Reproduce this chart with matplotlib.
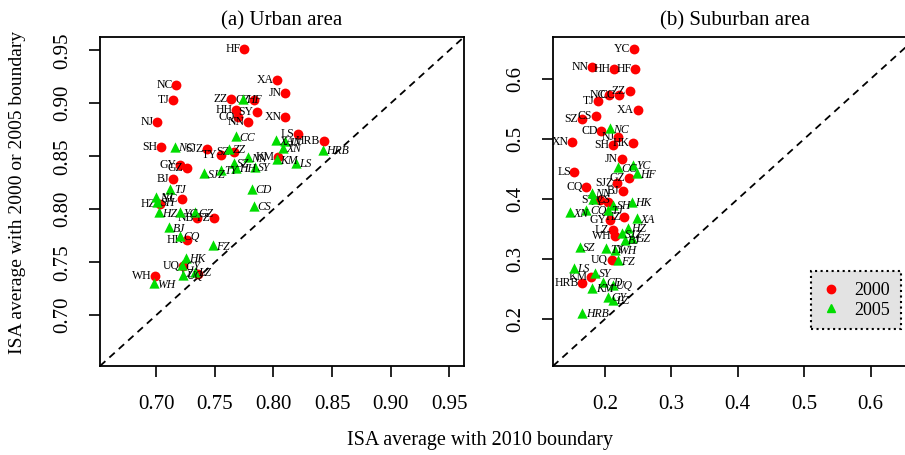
import matplotlib
matplotlib.use("Agg")
import matplotlib.pyplot as plt
from matplotlib.lines import Line2D

plt.rcParams['font.family'] = ['Liberation Serif', 'DejaVu Serif']

RED = '#ff0000'
GREEN = '#00dd00'

# (a) urban area, 2000 boundary vs 2010 boundary
urban_lab_2000 = ['HF', 'XA', 'NC', 'JN', 'TJ', 'ZZ', 'CZ', 'HH', 'SY', 'CQ', 'NN', 'XN',
                  'NJ', 'LS', 'HRB', 'SH', 'SJZ', 'SZ', 'TY', 'KM', 'GY', 'GZ', 'BJ',
                  'YC', 'HZ', 'NB', 'FZ', 'HK', 'UQ', 'LZ', 'WH']
urban_x_2000 = [0.775, 0.803, 0.717, 0.810, 0.714, 0.764, 0.783, 0.768, 0.786, 0.770, 0.778, 0.810,
                0.701, 0.821, 0.843, 0.704, 0.743, 0.766, 0.755, 0.804, 0.720, 0.726, 0.714,
                0.722, 0.703, 0.735, 0.749, 0.726, 0.723, 0.736, 0.699]
urban_y_2000 = [0.951, 0.922, 0.917, 0.910, 0.903, 0.904, 0.903, 0.894, 0.892, 0.887, 0.882, 0.887,
                0.882, 0.871, 0.864, 0.859, 0.857, 0.854, 0.851, 0.849, 0.842, 0.839, 0.829,
                0.810, 0.805, 0.792, 0.792, 0.771, 0.746, 0.739, 0.737]

urban_lab_2005 = ['NC', 'CC', 'HF', 'XA', 'JN', 'XN', 'HRB', 'KM', 'LS', 'ZZ', 'SZ', 'NN',
                  'SJZ', 'TY', 'HH', 'SY', 'CD', 'CS', 'TJ', 'NJ', 'SH', 'HZ', 'YC', 'GZ',
                  'BJ', 'CQ', 'FZ', 'HK', 'GY', 'UQ', 'LZ', 'WH']
urban_x_2005 = [0.716, 0.768, 0.774, 0.802, 0.810, 0.808, 0.842, 0.803, 0.819, 0.762, 0.766, 0.778,
                0.741, 0.755, 0.768, 0.784, 0.782, 0.783, 0.712, 0.700, 0.701, 0.702, 0.720, 0.733,
                0.711, 0.720, 0.748, 0.725, 0.722, 0.723, 0.733, 0.698]
urban_y_2005 = [0.859, 0.869, 0.904, 0.865, 0.864, 0.858, 0.856, 0.847, 0.844, 0.857, 0.844, 0.849,
                0.834, 0.837, 0.839, 0.840, 0.819, 0.803, 0.819, 0.812, 0.807, 0.797, 0.797, 0.797,
                0.783, 0.775, 0.766, 0.754, 0.747, 0.738, 0.741, 0.730]

# (b) suburban area
sub_lab_2000 = ['YC', 'NN', 'HH', 'HF', 'ZZ', 'NC', 'CC', 'TJ', 'XA', 'SZ', 'CS', 'CD', 'NJ',
                'XN', 'SH', 'HK', 'JN', 'LS', 'GZ', 'SJZ', 'BJ', 'CQ', 'SY', 'TY', 'HZ',
                'GY', 'LZ', 'WH', 'UQ', 'HRB', 'KM']
sub_x_2000 = [0.243, 0.181, 0.213, 0.245, 0.237, 0.206, 0.221, 0.189, 0.249, 0.165, 0.186, 0.194, 0.219,
              0.150, 0.212, 0.242, 0.225, 0.154, 0.236, 0.218, 0.227, 0.172, 0.192, 0.204, 0.229,
              0.207, 0.212, 0.215, 0.210, 0.166, 0.179]
sub_y_2000 = [0.650, 0.620, 0.617, 0.617, 0.580, 0.573, 0.573, 0.563, 0.548, 0.533, 0.538, 0.513, 0.503,
              0.495, 0.490, 0.493, 0.467, 0.445, 0.435, 0.427, 0.413, 0.420, 0.398, 0.395, 0.370,
              0.365, 0.348, 0.338, 0.298, 0.260, 0.270]

sub_lab_2005 = ['NC', 'CC', 'YC', 'HF', 'NN', 'CS', 'SH', 'HK', 'XN', 'CQ', 'TJ', 'XA', 'HZ',
                'SJZ', 'BJ', 'GZ', 'SZ', 'TY', 'WH', 'FZ', 'LS', 'SY', 'CD', 'KM', 'UQ',
                'GY', 'LZ', 'HRB']
sub_x_2005 = [0.207, 0.219, 0.242, 0.248, 0.180, 0.182, 0.212, 0.240, 0.147, 0.172, 0.204, 0.248, 0.234,
              0.225, 0.230, 0.240, 0.162, 0.202, 0.215, 0.219, 0.153, 0.185, 0.197, 0.181, 0.212,
              0.204, 0.212, 0.166]
sub_y_2005 = [0.518, 0.453, 0.457, 0.443, 0.410, 0.400, 0.390, 0.395, 0.378, 0.382, 0.382, 0.368, 0.352,
              0.343, 0.332, 0.335, 0.320, 0.318, 0.315, 0.298, 0.285, 0.277, 0.262, 0.252, 0.257,
              0.237, 0.232, 0.210]

W, H = 905, 455
fig = plt.figure(figsize=(W / 100, H / 100), dpi=100)
ax1 = fig.add_axes([100 / W, 89 / H, 364 / W, 329 / H])
ax2 = fig.add_axes([553 / W, 89 / H, 364 / W, 329 / H])


def panel(ax, lim, ticks, fmt, title, lx0, ly0, tx0, lx5, ly5, tx5):
    ax.plot(lim, lim, ls=(0, (4, 3)), color='black', lw=1.3, zorder=1)
    ax.scatter(lx0, ly0, s=50, color=RED, marker='o', zorder=3, linewidths=0)
    for t, x, y in zip(tx0, lx0, ly0):
        ax.annotate(t, (x, y), xytext=(-2.5, 0), textcoords='offset points',
                    ha='right', va='center', fontsize=8.5, zorder=4)
    ax.scatter(lx5, ly5, s=55, color=GREEN, marker='^', zorder=5, linewidths=0)
    for t, x, y in zip(tx5, lx5, ly5):
        ax.annotate(t, (x, y), xytext=(2.5, -1), textcoords='offset points',
                    ha='left', va='center', fontsize=8.5, style='italic', zorder=6)
    ax.set_xlim(lim)
    ax.set_ylim(lim)
    ax.set_xticks(ticks)
    ax.set_yticks(ticks)
    ax.set_xticklabels([fmt % v for v in ticks])
    ax.set_yticklabels([fmt % v for v in ticks], rotation=90, va='center')
    ax.tick_params(length=8, width=1.2, labelsize=15, direction='out')
    ax.tick_params(axis='x', pad=13)
    ax.tick_params(axis='y', pad=12)
    for s in ax.spines.values():
        s.set_linewidth(1.3)
    ax.set_title(title, fontsize=15, pad=8)


panel(ax1, (0.652, 0.9626), [0.70, 0.75, 0.80, 0.85, 0.90, 0.95], '%.2f', '(a) Urban area',
      urban_x_2000, urban_y_2000, urban_lab_2000, urban_x_2005, urban_y_2005, urban_lab_2005)
panel(ax2, (0.1217, 0.670), [0.2, 0.3, 0.4, 0.5, 0.6], '%.1f', '(b) Suburban area',
      sub_x_2000, sub_y_2000, sub_lab_2000, sub_x_2005, sub_y_2005, sub_lab_2005)

handles = [Line2D([], [], ls='none', marker='o', color=RED, markersize=6),
           Line2D([], [], ls='none', marker='^', color=GREEN, markersize=6)]
leg = fig.legend(handles, ['2000', '2005'], loc='upper left',
                 bbox_to_anchor=(811 / W, 1 - 271 / H), bbox_transform=fig.transFigure,
                 fancybox=False, fontsize=13, handlelength=1.0, handletextpad=0.8,
                 borderpad=0.6, labelspacing=0.15, borderaxespad=0)
fr = leg.get_frame()
fr.set_facecolor('#e3e3e3')
fr.set_edgecolor('black')
fr.set_linestyle(':')
fr.set_linewidth(1.5)
fr.set_alpha(1)

fig.text(480 / W, 1 - 440 / H, 'ISA average with 2010 boundary', ha='center', va='center', fontsize=14.5)
fig.text(18 / W, 1 - 192 / H, 'ISA average with 2000 or 2005 boundary', ha='center', va='center',
         rotation=90, fontsize=14)

fig.savefig('out.png', dpi=100)
